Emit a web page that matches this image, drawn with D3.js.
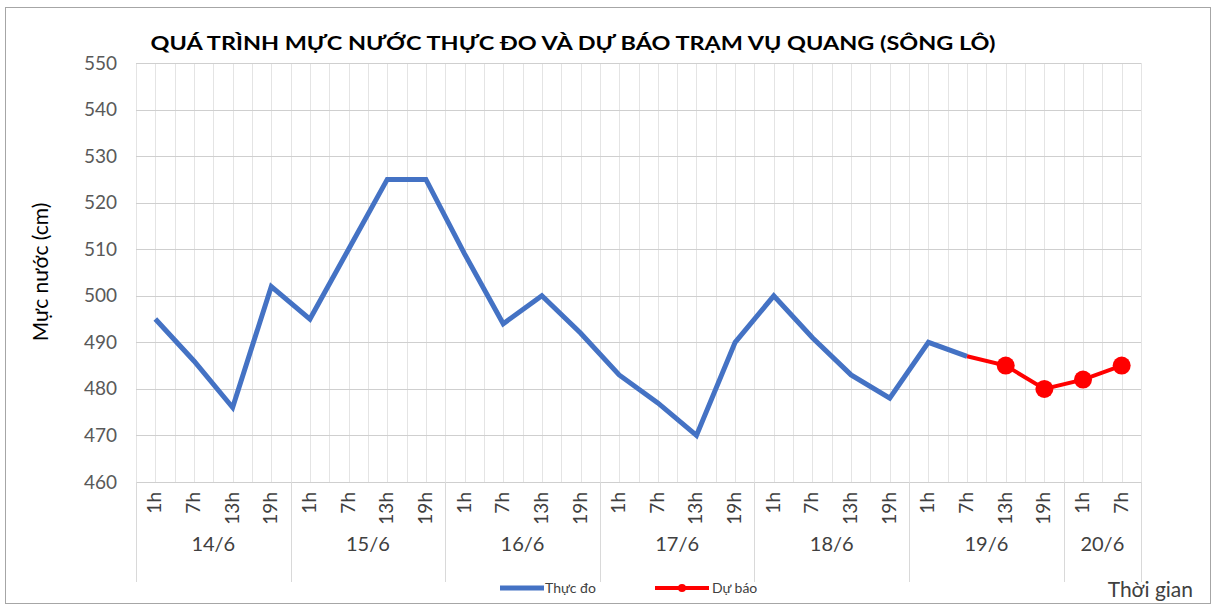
<!DOCTYPE html>
<html lang="vi">
<head>
<meta charset="UTF-8">
<title>Mực nước Vụ Quang</title>
<script src="https://cdn.jsdelivr.net/npm/d3@7"></script>
<style>
    body{ margin:0; background:#fff; }
    svg text{ font-family: Lato, "Open Sans", sans-serif; }
    .grid line{ stroke:#cfcfcf; stroke-width:1; shape-rendering:crispEdges; }
    .vgrid line{ stroke:#e4e4e4; stroke-width:1; shape-rendering:crispEdges; }
</style>
</head>
<body>
<svg id="chart" width="1217" height="606"></svg>
<script>
    // du lieu doc tu hinh
    var days = ["14/6","15/6","16/6","17/6","18/6","19/6","20/6"];
    var hours = ["1h","7h","13h","19h"];
    var hoursPerDay = [4,4,4,4,4,4,2];
    var observed = [495,486,476,502, 495,510,525,525, 509,494,500,492, 483,477,470,490, 500,491,483,478, 490,487];
    var forecast = [487,485,480,482,485];   // bat dau tu 19/6 7h
    var forecastStart = 21;
    var yTicks = [460,470,480,490,500,510,520,530,540,550];

    var cats = [];
    days.forEach(function(d,i){
        for(var k=0;k<hoursPerDay[i];k++) cats.push({day:d, hour:hours[k], key:d+"-"+hours[k]});
    });

    var svg = d3.select("#chart");
    var pLeft = 136, pRight = 1141, pTop = 63, pBottom = 482;

    // khung ngoai
    svg.append("rect").attr("x",5.5).attr("y",7.5).attr("width",1205).attr("height",596)
        .attr("fill","#fff").attr("stroke","#a6a6a6");

    var x = d3.scaleBand().domain(cats.map(function(c){return c.key;})).range([pLeft,pRight]).padding(0);
    var y = d3.scaleLinear().domain([460,550]).range([pBottom,pTop]);
    var bw = x.bandwidth();
    function cx(i){ return x(cats[i].key)+bw/2; }

    // luoi doc (ranh gioi + giua)
    var vg = svg.append("g").attr("class","vgrid");
    var vpos = [];
    cats.forEach(function(c,i){ vpos.push(x(c.key)); vpos.push(x(c.key)+bw/2); });
    vpos.push(pRight);
    vg.selectAll("line").data(vpos).enter().append("line")
        .attr("x1",function(d){return Math.round(d)+0.5;}).attr("x2",function(d){return Math.round(d)+0.5;})
        .attr("y1",pTop).attr("y2",pBottom);

    // luoi ngang
    var hg = svg.append("g").attr("class","grid");
    hg.selectAll("line").data(yTicks).enter().append("line")
        .attr("x1",pLeft).attr("x2",pRight)
        .attr("y1",function(d){return Math.round(y(d))+0.5;}).attr("y2",function(d){return Math.round(y(d))+0.5;});

    // truc y
    var yAxis = svg.append("g").attr("transform","translate("+pLeft+",0)")
        .call(d3.axisLeft(y).tickValues(yTicks).tickSize(0).tickPadding(19));
    yAxis.select(".domain").remove();
    yAxis.selectAll("text").attr("font-size","19px").attr("fill","#595959")
        .style("font-family","Lato, sans-serif");

    svg.append("text").attr("transform","translate(48,272) rotate(-90)")
        .attr("text-anchor","middle").attr("font-size","21px").attr("fill","#000")
        .text("Mực nước (cm)");

    // nhan gio (xoay)
    svg.append("g").selectAll("text").data(cats).enter().append("text")
        .attr("transform",function(d,i){ return "translate("+(cx(i)+6)+",492) rotate(-90)"; })
        .attr("text-anchor","end").attr("font-size","19px").attr("fill","#404040")
        .text(function(d){return d.hour;});

    // nhan ngay + vach phan nhom
    var start = 0, groups = [];
    days.forEach(function(d,i){
        groups.push({day:d, x0:x(cats[start].key), x1:x(cats[start+hoursPerDay[i]-1].key)+bw});
        start += hoursPerDay[i];
    });
    var sep = [pLeft].concat(groups.map(function(g){return g.x1;}));
    svg.append("g").selectAll("line").data(sep).enter().append("line")
        .attr("x1",function(d){return Math.round(d)+0.5;}).attr("x2",function(d){return Math.round(d)+0.5;})
        .attr("y1",pBottom).attr("y2",582).attr("stroke","#d9d9d9").attr("shape-rendering","crispEdges");
    svg.append("g").selectAll("text").data(groups).enter().append("text")
        .attr("x",function(g){return (g.x0+g.x1)/2;}).attr("y",551)
        .attr("text-anchor","middle").attr("font-size","20px").attr("fill","#404040")
        .text(function(g){return g.day;});

    // duong thuc do
    var line = d3.line().x(function(d){return cx(d.i);}).y(function(d){return y(d.v);});
    var obsData = observed.map(function(v,i){return {i:i, v:v};});
    svg.append("path").datum(obsData).attr("d",line)
        .attr("fill","none").attr("stroke","#4472C4").attr("stroke-width",5).attr("stroke-linejoin","miter");

    // duong du bao
    var fcData = forecast.map(function(v,k){return {i:forecastStart+k, v:v};});
    svg.append("path").datum(fcData).attr("d",line)
        .attr("fill","none").attr("stroke","#ff0000").attr("stroke-width",4);
    svg.append("g").selectAll("circle").data(fcData.slice(1)).enter().append("circle")
        .attr("cx",function(d){return cx(d.i);}).attr("cy",function(d){return y(d.v);})
        .attr("r",9).attr("fill","#ff0000");

    // tieu de
    svg.append("text").attr("x",573).attr("y",50).attr("text-anchor","middle")
        .attr("font-size","19px").attr("font-weight","bold").attr("fill","#000")
        .attr("textLength",845).attr("lengthAdjust","spacingAndGlyphs")
        .text("QUÁ TRÌNH MỰC NƯỚC THỰC ĐO VÀ DỰ BÁO TRẠM VỤ QUANG (SÔNG LÔ)");

    // chu giai
    var lg = svg.append("g");
    lg.append("line").attr("x1",500).attr("x2",544).attr("y1",588).attr("y2",588)
        .attr("stroke","#4472C4").attr("stroke-width",5);
    lg.append("text").attr("x",545).attr("y",593).attr("font-size","14px").attr("fill","#404040").text("Thực đo");
    lg.append("line").attr("x1",655).attr("x2",709).attr("y1",588).attr("y2",588)
        .attr("stroke","#ff0000").attr("stroke-width",4);
    lg.append("circle").attr("cx",682).attr("cy",588).attr("r",4).attr("fill","#ff0000");
    lg.append("text").attr("x",712).attr("y",593).attr("font-size","14px").attr("fill","#404040").text("Dự báo");

    svg.append("text").attr("x",1193).attr("y",597).attr("text-anchor","end")
        .attr("font-size","21px").attr("fill","#404040").text("Thời gian");
</script>
</body>
</html>
